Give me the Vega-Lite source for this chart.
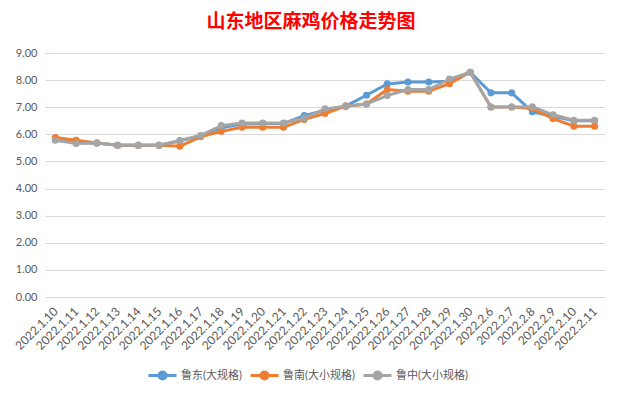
{
  "$schema": "https://vega.github.io/schema/vega-lite/v6.json",
  "width": 560,
  "height": 244,
  "autosize": "none",
  "padding": {"left": 45, "top": 53, "right": 17, "bottom": 99},
  "background": "white",
  "title": {
    "text": "山东地区麻鸡价格走势图",
    "font": "Noto Sans CJK SC",
    "fontSize": 19,
    "fontWeight": "bold",
    "color": "#FF0000",
    "anchor": "middle",
    "dx": -14,
    "offset": 15
  },
  "data": {
    "values": [
      {"date": "2022.1.10", "鲁东(大规格)": 5.80, "鲁南(大小规格)": 5.88, "鲁中(大小规格)": 5.78},
      {"date": "2022.1.11", "鲁东(大规格)": 5.70, "鲁南(大小规格)": 5.78, "鲁中(大小规格)": 5.66},
      {"date": "2022.1.12", "鲁东(大规格)": 5.68, "鲁南(大小规格)": 5.68, "鲁中(大小规格)": 5.68},
      {"date": "2022.1.13", "鲁东(大规格)": 5.60, "鲁南(大小规格)": 5.60, "鲁中(大小规格)": 5.60},
      {"date": "2022.1.14", "鲁东(大规格)": 5.60, "鲁南(大小规格)": 5.60, "鲁中(大小规格)": 5.60},
      {"date": "2022.1.15", "鲁东(大规格)": 5.60, "鲁南(大小规格)": 5.60, "鲁中(大小规格)": 5.60},
      {"date": "2022.1.16", "鲁东(大规格)": 5.75, "鲁南(大小规格)": 5.56, "鲁中(大小规格)": 5.77},
      {"date": "2022.1.17", "鲁东(大规格)": 5.95, "鲁南(大小规格)": 5.91, "鲁中(大小规格)": 5.96},
      {"date": "2022.1.18", "鲁东(大规格)": 6.24, "鲁南(大小规格)": 6.11, "鲁中(大小规格)": 6.32},
      {"date": "2022.1.19", "鲁东(大规格)": 6.38, "鲁南(大小规格)": 6.26, "鲁中(大小规格)": 6.42},
      {"date": "2022.1.20", "鲁东(大规格)": 6.40, "鲁南(大小规格)": 6.26, "鲁中(大小规格)": 6.42},
      {"date": "2022.1.21", "鲁东(大规格)": 6.40, "鲁南(大小规格)": 6.26, "鲁中(大小规格)": 6.42},
      {"date": "2022.1.22", "鲁东(大规格)": 6.69, "鲁南(大小规格)": 6.55, "鲁中(大小规格)": 6.60},
      {"date": "2022.1.23", "鲁东(大规格)": 6.89, "鲁南(大小规格)": 6.77, "鲁中(大小规格)": 6.94},
      {"date": "2022.1.24", "鲁东(大规格)": 7.04, "鲁南(大小规格)": 7.04, "鲁中(大小规格)": 7.04},
      {"date": "2022.1.25", "鲁东(大规格)": 7.44, "鲁南(大小规格)": 7.12, "鲁中(大小规格)": 7.12},
      {"date": "2022.1.26", "鲁东(大规格)": 7.86, "鲁南(大小规格)": 7.65, "鲁中(大小规格)": 7.43},
      {"date": "2022.1.27", "鲁东(大规格)": 7.93, "鲁南(大小规格)": 7.59, "鲁中(大小规格)": 7.65},
      {"date": "2022.1.28", "鲁东(大规格)": 7.93, "鲁南(大小规格)": 7.59, "鲁中(大小规格)": 7.65},
      {"date": "2022.1.29", "鲁东(大规格)": 7.96, "鲁南(大小规格)": 7.87, "鲁中(大小规格)": 8.04},
      {"date": "2022.1.30", "鲁东(大规格)": 8.29, "鲁南(大小规格)": 8.29, "鲁中(大小规格)": 8.29},
      {"date": "2022.2.6", "鲁东(大规格)": 7.53, "鲁南(大小规格)": 7.01, "鲁中(大小规格)": 7.01},
      {"date": "2022.2.7", "鲁东(大规格)": 7.53, "鲁南(大小规格)": 7.01, "鲁中(大小规格)": 7.01},
      {"date": "2022.2.8", "鲁东(大规格)": 6.83, "鲁南(大小规格)": 6.95, "鲁中(大小规格)": 7.02},
      {"date": "2022.2.9", "鲁东(大规格)": 6.67, "鲁南(大小规格)": 6.58, "鲁中(大小规格)": 6.72},
      {"date": "2022.2.10", "鲁东(大规格)": 6.50, "鲁南(大小规格)": 6.30, "鲁中(大小规格)": 6.52},
      {"date": "2022.2.11", "鲁东(大规格)": 6.50, "鲁南(大小规格)": 6.30, "鲁中(大小规格)": 6.52}
    ]
  },
  "transform": [
    {"fold": ["鲁东(大规格)", "鲁南(大小规格)", "鲁中(大小规格)"], "as": ["series", "value"]}
  ],
  "encoding": {
    "x": {
      "field": "date",
      "type": "ordinal",
      "sort": null,
      "scale": {"type": "point", "padding": 0.5},
      "axis": {
        "title": null,
        "labelAngle": -45,
        "labelAlign": "right",
        "labelBaseline": "middle",
        "labelPadding": 12,
        "labelFontSize": 12,
        "domain": false,
        "ticks": false,
        "grid": false
      }
    },
    "y": {
      "field": "value",
      "type": "quantitative",
      "scale": {"domain": [0, 9], "nice": false, "zero": true},
      "axis": {
        "title": null,
        "values": [0, 1, 2, 3, 4, 5, 6, 7, 8, 9],
        "format": ".2f",
        "domain": false,
        "ticks": false,
        "grid": true,
        "gridColor": "#D9D9D9",
        "gridWidth": 1,
        "labelPadding": 8
      }
    },
    "color": {
      "field": "series",
      "type": "nominal",
      "scale": {
        "domain": ["鲁东(大规格)", "鲁南(大小规格)", "鲁中(大小规格)"],
        "range": ["#5B9BD5", "#ED7D31", "#A5A5A5"]
      },
      "legend": {
        "title": null,
        "orient": "none",
        "direction": "horizontal",
        "legendX": 102,
        "legendY": 307,
        "symbolType": "M-1,0H1M-0.25,0A0.25,0.25 0 1,0 0.25,0A0.25,0.25 0 1,0 -0.25,0",
        "symbolSize": 784,
        "symbolStrokeWidth": 3,
        "labelFontSize": 11,
        "labelColor": "#595959",
        "labelOffset": 3,
        "columnPadding": 2,
        "encode": {
          "symbols": {"update": {"fill": {"scale": "color", "field": "value"}, "fillOpacity": {"value": 1}}}
        }
      }
    }
  },
  "layer": [
    {
      "transform": [{"filter": "datum.series == '鲁东(大规格)'"}],
      "mark": {"type": "line", "strokeWidth": 3, "point": {"filled": true, "size": 50, "opacity": 1}}
    },
    {
      "transform": [{"filter": "datum.series == '鲁南(大小规格)'"}],
      "mark": {"type": "line", "strokeWidth": 3, "point": {"filled": true, "size": 50, "opacity": 1}}
    },
    {
      "transform": [{"filter": "datum.series == '鲁中(大小规格)'"}],
      "mark": {"type": "line", "strokeWidth": 3, "point": {"filled": true, "size": 50, "opacity": 1}}
    }
  ],
  "config": {
    "font": "Lato, Noto Sans CJK SC",
    "view": {"stroke": null},
    "axis": {"labelFont": "Lato, Noto Sans CJK SC", "labelFontSize": 11, "labelColor": "#595959"},
    "legend": {"labelFont": "Lato, Noto Sans CJK SC"}
  }
}
